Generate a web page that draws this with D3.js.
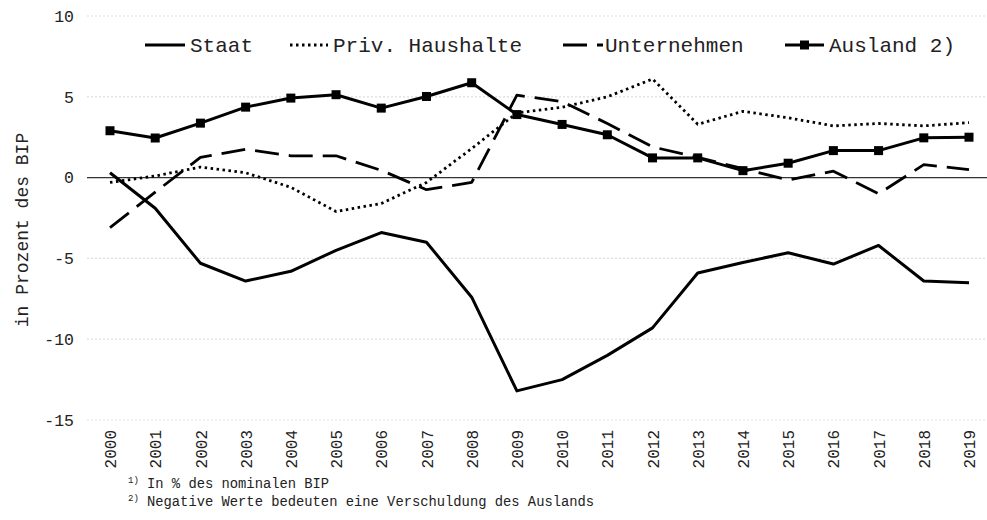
<!DOCTYPE html>
<html><head><meta charset="utf-8">
<script src="https://cdn.jsdelivr.net/npm/d3@7"></script>
<style>body{margin:0;background:#fff}svg{display:block}text{font-family:"Liberation Mono","DejaVu Sans Mono",monospace;fill:#222}</style>
</head><body><svg id="c" width="987" height="520"></svg>
<script>
const years = ["2000","2001","2002","2003","2004","2005","2006","2007","2008","2009","2010","2011","2012","2013","2014","2015","2016","2017","2018","2019"];
const staat = [0.3,-1.9,-5.3,-6.4,-5.8,-4.5,-3.4,-4.0,-7.4,-13.2,-12.5,-11.0,-9.3,-5.9,-5.25,-4.65,-5.35,-4.2,-6.4,-6.5];
const privHaushalte = [-0.3,0.1,0.65,0.3,-0.6,-2.1,-1.6,-0.3,1.8,4.0,4.35,5.0,6.1,3.3,4.1,3.7,3.2,3.35,3.2,3.4];
const unternehmen = [-3.1,-0.9,1.25,1.75,1.35,1.35,0.45,-0.75,-0.3,5.1,4.7,3.35,1.9,1.25,0.55,-0.15,0.4,-1.0,0.8,0.5];
const ausland = [2.9,2.45,3.37,4.36,4.92,5.13,4.3,5.02,5.87,3.9,3.29,2.65,1.22,1.22,0.43,0.89,1.67,1.67,2.46,2.5];
const yTicks = [10,5,0,-5,-10,-15];
const seriesNames = ["Staat","Priv. Haushalte","Unternehmen","Ausland 2)"];
const yTitle = "in Prozent des BIP";
const notes = [["1)","In % des nominalen BIP"],["2)","Negative Werte bedeuten eine Verschuldung des Auslands"]];

const svg = d3.select("#c");
const x = d3.scalePoint().domain(years).range([110, 969]);
const y = d3.scaleLinear().domain([-15, 10]).range([420, 16]);

// grid
const grid = svg.append("g");
yTicks.filter(v => v !== 0).forEach(v => {
  grid.append("line").attr("x1", 87).attr("x2", 987).attr("y1", y(v)).attr("y2", y(v))
    .attr("stroke", "#ddd").attr("stroke-width", 1.2).attr("stroke-dasharray", "2,2");
});
svg.append("line").attr("x1", 87).attr("x2", 987).attr("y1", y(0)).attr("y2", y(0))
  .attr("stroke", "#333").attr("stroke-width", 1.3);

// y axis labels
const yAxis = d3.axisLeft(y).tickValues(yTicks).tickFormat(d => String(d)).tickSize(0).tickPadding(0);
const ga = svg.append("g").attr("transform", "translate(74,0)").call(yAxis);
ga.select(".domain").remove();
ga.selectAll("text").style("font-family", '"Liberation Mono",monospace').style("font-size", "16.5px").attr("fill", "#222");

// x axis labels
const xAxis = d3.axisBottom(x).tickSize(0).tickPadding(0);
const gx = svg.append("g").attr("transform", "translate(0,430)").call(xAxis);
gx.select(".domain").remove();
gx.selectAll("text").style("font-family", '"Liberation Mono",monospace').style("font-size", "16px").attr("fill", "#222")
  .attr("transform", "rotate(-90)").attr("text-anchor", "end").attr("x", 0).attr("y", 0).attr("dy", "0.35em").attr("dx", 0);

// y title
svg.append("text").attr("transform", "translate(22,230) rotate(-90)").attr("text-anchor", "middle")
  .attr("dy", "0.35em").style("font-size", "18px").text(yTitle);

const line = d3.line().x((d, i) => x(years[i])).y(d => y(d));
const styles = [
  {data: staat, w: 3, dash: null},
  {data: privHaushalte, w: 2.8, dash: "2.5,3.5"},
  {data: unternehmen, w: 2.8, dash: "24,10"},
  {data: ausland, w: 3, dash: null, marker: true}
];
styles.forEach(s => {
  svg.append("path").datum(s.data).attr("d", line).attr("fill", "none").attr("stroke", "#000")
    .attr("stroke-width", s.w).attr("stroke-dasharray", s.dash).attr("stroke-linejoin", "round");
  if (s.marker) {
    svg.append("g").selectAll("rect").data(s.data).join("rect")
      .attr("x", (d, i) => x(years[i]) - 4.5).attr("y", d => y(d) - 4.5)
      .attr("width", 9).attr("height", 9).attr("fill", "#000");
  }
});

// legend
const legY = 45;
const leg = [
  {x: 145, w: 40, tx: 190},
  {x: 290, w: 38, tx: 333},
  {x: 563, w: 40, tx: 605},
  {x: 785, w: 39, tx: 829}
];
leg.forEach((l, i) => {
  const s = styles[i];
  svg.append("line").attr("x1", l.x).attr("x2", l.x + l.w).attr("y1", legY).attr("y2", legY)
    .attr("stroke", "#000").attr("stroke-width", s.w).attr("stroke-dasharray", i === 2 ? "24,10" : s.dash);
  if (s.marker) svg.append("rect").attr("x", l.x + l.w / 2 - 4.5).attr("y", legY - 4.5).attr("width", 9).attr("height", 9).attr("fill", "#000");
  svg.append("text").attr("x", l.tx).attr("y", legY).attr("dy", "0.35em").style("font-size", "21px").text(seriesNames[i]);
});

// notes
notes.forEach((n, i) => {
  const yy = 488 + i * 18;
  svg.append("text").attr("x", 128).attr("y", yy - 5).style("font-size", "9px").text(n[0]);
  svg.append("text").attr("x", 147).attr("y", yy).style("font-size", "13.8px").text(n[1]);
});
</script></body></html>
